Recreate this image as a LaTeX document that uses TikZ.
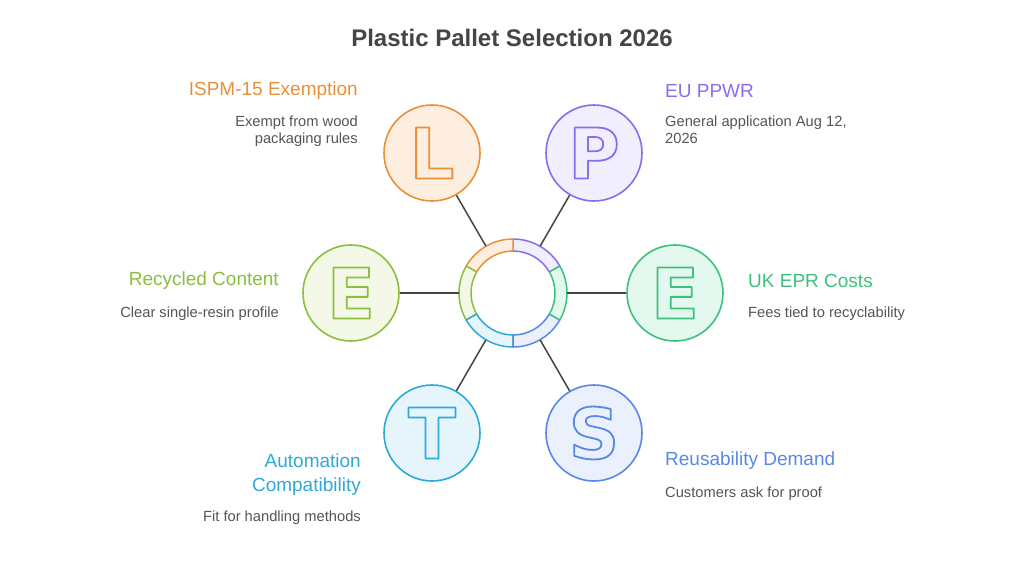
\documentclass[tikz,border=0pt]{standalone}
\usepackage{fontspec}
\setmainfont{Liberation Sans}
\newfontfamily\letterfont{DejaVu Sans}[UprightFont={* Bold}]
\definecolor{Or}{HTML}{E8903A}\definecolor{fOr}{HTML}{FDEEE0}
\definecolor{Pu}{HTML}{8B6CEF}\definecolor{fPu}{HTML}{F1EEFD}
\definecolor{Gr}{HTML}{3DC17C}\definecolor{fGr}{HTML}{E3F8EE}
\definecolor{Bl}{HTML}{5A88E8}\definecolor{fBl}{HTML}{EAF0FC}
\definecolor{Cy}{HTML}{2DAAD9}\definecolor{fCy}{HTML}{E6F5FB}
\definecolor{Li}{HTML}{8CBF3F}\definecolor{fLi}{HTML}{F3F9E6}
\definecolor{txt}{HTML}{555555}
\definecolor{ttl}{HTML}{454545}
\definecolor{lnk}{HTML}{444444}
\newcommand\outlinedletter[1]{\special{pdf:literal direct 1 Tr 1.8 w 1 j}#1\special{pdf:literal direct 0 Tr}}
\tikzset{
  bigc/.style={circle, draw=#1, fill=f#1, line width=1.6pt, minimum size=96pt, inner sep=0pt,
    text=#1, font=\letterfont\fontsize{70}{70}\selectfont},
  head/.style={inner sep=0pt, font=\fontsize{19}{24}\selectfont, text=#1},
  desc/.style={inner sep=0pt, font=\fontsize{14.7}{17}\selectfont, text=txt},
  link/.style={draw=lnk, line width=1.5pt},
  seg/.style={draw=#1, fill=f#1, line width=1.5pt, line join=round}
}
\begin{document}
\begin{tikzpicture}[x=1pt,y=-1pt]
\useasboundingbox (0,0) rectangle (1024,576);
\fill[white] (0,0) rectangle (1024,576);
\node[inner sep=0pt, text=ttl, font=\bfseries\fontsize{24}{28}\selectfont] (title) at (512,38) {Plastic Pallet Selection 2026};
% ring
\coordinate (C) at (513,293);
\node[circle, minimum size=108pt, inner sep=0pt] (ring) at (C) {};
\foreach \a/\b/\c in {30/90/Pu, 90/150/Or, 150/210/Li, 210/270/Cy, 270/330/Bl, 330/390/Gr}{
  \draw[seg=\c] ([shift={(\a:54pt)}]C) arc[start angle=\a, end angle=\b, radius=54pt]
    -- ([shift={(\b:42pt)}]C) arc[start angle=\b, end angle=\a, radius=42pt] -- cycle;
}
% outer circles
\node[bigc=Or] (L) at (432,153) {\outlinedletter{L}};
\node[bigc=Pu] (P) at (594,153) {\outlinedletter{P}};
\node[bigc=Li] (El) at (351,293) {\outlinedletter{E}};
\node[bigc=Gr] (Er) at (675,293) {\outlinedletter{E}};
\node[bigc=Cy] (T) at (432,433) {\outlinedletter{T}};
\node[bigc=Bl] (S) at (594,433) {\outlinedletter{S}};
% connectors
\foreach \n in {L,P,El,Er,T,S}{ \draw[link] (ring) -- (\n); }
% texts
\node[head=Or, anchor=east] (h1) at (358,91) {ISPM-15 Exemption};
\node[desc, anchor=north east, align=right] (d1) at (358,116) {Exempt from wood\\packaging rules};
\node[head=Pu, anchor=west] (h2) at (665,91) {EU PPWR};
\node[desc, anchor=north west, align=left] (d2) at (665,116) {General application Aug 12,\\2026};
\node[head=Li, anchor=east] (h3) at (279,281) {Recycled Content};
\node[desc, anchor=east] (d3) at (279,314) {Clear single-resin profile};
\node[head=Gr, anchor=west] (h4) at (748,281) {UK EPR Costs};
\node[desc, anchor=west] (d4) at (748,314) {Fees tied to recyclability};
\node[head=Cy, anchor=north east, align=right] (h5) at (361,454) {Automation\\Compatibility};
\node[desc, anchor=east] (d5) at (361,518) {Fit for handling methods};
\node[head=Bl, anchor=west] (h6) at (665,461) {Reusability Demand};
\node[desc, anchor=west] (d6) at (665,494) {Customers ask for proof};
\end{tikzpicture}
\end{document}
